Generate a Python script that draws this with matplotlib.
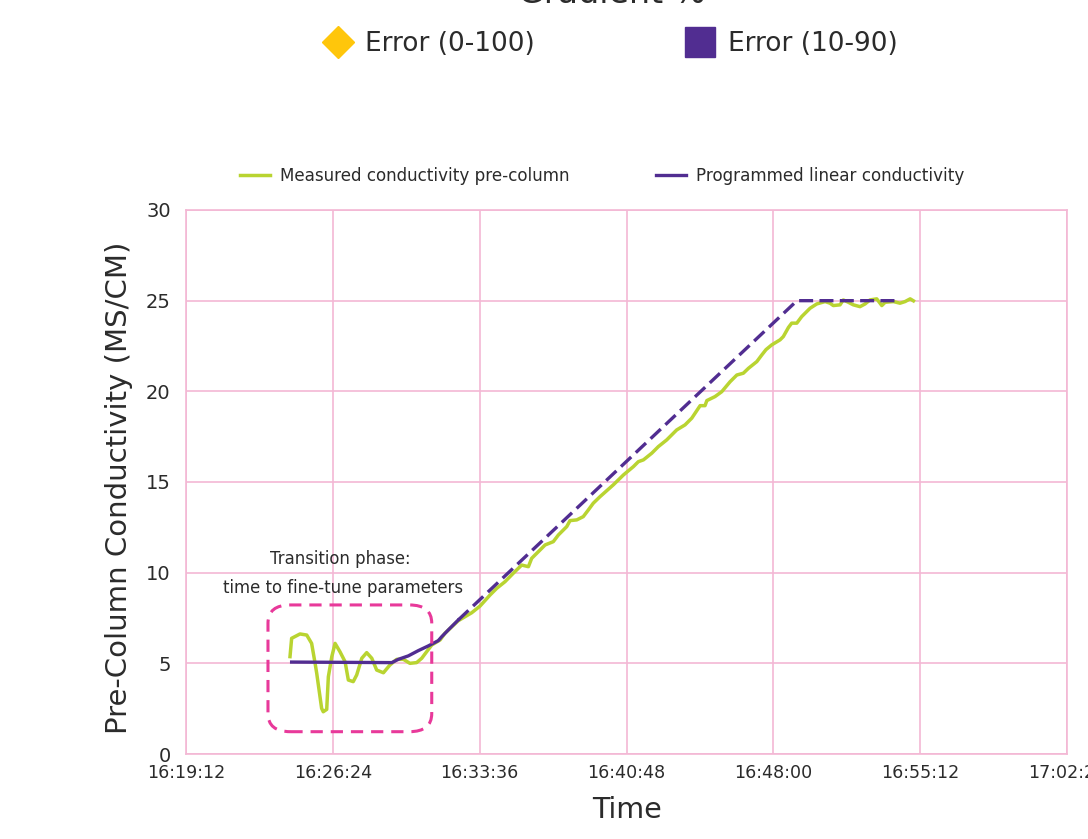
import matplotlib
matplotlib.use("Agg")
import numpy as np
import matplotlib.pyplot as plt
from matplotlib.lines import Line2D
from matplotlib.patches import FancyBboxPatch
from matplotlib.ticker import FuncFormatter

plt.rcParams['font.family'] = ['DejaVu Sans']

# ---- data (time in minutes after 16:00) ----
measured_time = [24.30, 24.38, 24.79, 25.12, 25.36, 25.53, 25.61, 25.85, 25.93, 26.10,
                 26.18, 26.35, 26.51, 26.75, 27.00, 27.16, 27.40, 27.57, 27.82, 28.06,
                 28.31, 28.55, 28.88, 29.20, 29.53, 29.86, 30.18, 30.51, 30.76, 31.00,
                 31.25, 31.66, 31.90, 32.55, 33.21, 33.62, 34.11, 34.44, 34.84, 35.25,
                 35.66, 35.99, 36.15, 36.48, 36.81, 37.21, 37.46, 37.87, 38.03, 38.36,
                 38.68, 38.93, 39.17, 39.50, 40.15, 40.65, 41.14, 41.38, 41.63, 42.04,
                 42.36, 42.77, 43.26, 43.67, 44.00, 44.41, 44.65, 44.74, 45.14, 45.47,
                 45.88, 46.21, 46.53, 46.78, 47.19, 47.43, 47.64, 47.92, 48.33, 48.49,
                 48.74, 48.90, 49.15, 49.39, 49.80, 50.13, 50.54, 50.78, 50.94, 51.27,
                 51.43, 51.68, 51.92, 52.25, 52.50, 52.74, 53.07, 53.32, 53.48, 53.89,
                 54.21, 54.46, 54.71, 54.87]
measured_value = [5.37, 6.38, 6.62, 6.56, 6.10, 5.00, 4.45, 2.52, 2.33, 2.46,
                  4.26, 5.37, 6.10, 5.64, 5.09, 4.08, 3.99, 4.36, 5.28, 5.59,
                  5.28, 4.63, 4.48, 4.91, 5.22, 5.22, 5.00, 5.04, 5.28, 5.64,
                  6.01, 6.29, 6.66, 7.35, 7.79, 8.16, 8.77, 9.14, 9.50, 9.97,
                  10.42, 10.33, 10.79, 11.16, 11.53, 11.71, 12.08, 12.54, 12.87, 12.91,
                  13.09, 13.46, 13.83, 14.19, 14.84, 15.39, 15.85, 16.12, 16.22, 16.59,
                  16.95, 17.32, 17.87, 18.15, 18.52, 19.21, 19.21, 19.49, 19.71, 19.98,
                  20.53, 20.90, 21.00, 21.27, 21.64, 22.00, 22.30, 22.56, 22.84, 23.02,
                  23.52, 23.76, 23.76, 24.12, 24.58, 24.82, 24.95, 24.86, 24.73, 24.77,
                  25.04, 24.91, 24.77, 24.67, 24.82, 25.04, 25.10, 24.73, 24.91, 24.95,
                  24.86, 24.95, 25.10, 24.99]

programmed_time = [24.38, 29.29, 29.61, 30.10, 30.59, 31.08, 31.57, 31.74, 32.06, 32.55,
                   49.16, 54.21]
programmed_value = [5.07, 5.04, 5.22, 5.41, 5.70, 5.96, 6.25, 6.47, 6.84, 7.39,
                    25.0, 25.0]
programmed_solid_until = 9   # index where the programmed line turns dashed

x_ticks_start, x_ticks_end, x_tick_step = 19.2, 62.4, 7.2
y_ticks = [0, 5, 10, 15, 20, 25, 30]

series_names = ["Measured conductivity pre-column", "Programmed linear conductivity"]
top_legend_names = ["Error (0-100)", "Error (10-90)"]

GREEN = '#B9D431'
PURPLE = '#512D91'
GOLD = '#FFC60B'
PINK_GRID = '#F3B8D4'
BOX_PINK = '#E8399A'
TEXT = '#2B2B2B'

fig = plt.figure(figsize=(10.88, 8.39), dpi=100)
ax = fig.add_axes([186/1088, 1-754/839, (1067-186)/1088, (754-210)/839])

ax.plot(measured_time, measured_value, color=GREEN, lw=2.5, label=series_names[0],
        solid_joinstyle='round', zorder=3)
ax.plot(programmed_time[:programmed_solid_until + 1], programmed_value[:programmed_solid_until + 1],
        color=PURPLE, lw=2.4, zorder=4, label=series_names[1])
ax.plot(programmed_time[programmed_solid_until:], programmed_value[programmed_solid_until:],
        color=PURPLE, lw=2.4, zorder=4, dashes=(4.2, 1.9))

ax.set_xlim(x_ticks_start, x_ticks_end)
ax.set_ylim(0, 30)
ax.set_xticks(np.arange(x_ticks_start, x_ticks_end + 0.01, x_tick_step))
ax.set_yticks(y_ticks)


def fmt_time(m, pos):
    total = int(round(m * 60)) + 16 * 3600
    h, rem = divmod(total, 3600)
    mm, ss = divmod(rem, 60)
    return f"{h:02d}:{mm:02d}:{ss:02d}"


ax.xaxis.set_major_formatter(FuncFormatter(fmt_time))
ax.grid(True, color=PINK_GRID, lw=1.2)
ax.set_axisbelow(True)
for s in ax.spines.values():
    s.set_color(PINK_GRID)
    s.set_linewidth(1.2)
ax.tick_params(length=0, labelsize=12.6, colors=TEXT, pad=7)
ax.tick_params(axis='y', labelsize=14, pad=11)
for lab in ax.get_xticklabels():
    lab.set_clip_on(False)

ax.set_xlabel("Time", fontsize=20.5, color=TEXT, labelpad=10)
ax.set_ylabel("Pre-Column Conductivity (MS/CM)", fontsize=21, color=TEXT)
ax.yaxis.set_label_coords(-(186 - 133) / 881, (754 - 488) / 544)

# transition box
box = FancyBboxPatch((23.22, 1.23), 31.25 - 23.22, 8.22 - 1.23,
                     boxstyle="round,pad=0,rounding_size=1.1", mutation_aspect=1.0 / 1.1,
                     fill=False, edgecolor=BOX_PINK, lw=2.2, linestyle=(0, (4, 2.6)), zorder=5)
ax.add_patch(box)
ax.text(26.75, 10.76, "Transition phase:", ha='center', va='center', fontsize=11.9, color=TEXT)
ax.text(26.92, 9.16, "time to fine-tune parameters", ha='center', va='center', fontsize=11.9,
        color=TEXT)

# chart legend
leg = ax.legend(loc='center left', bbox_to_anchor=((240 - 186) / 881, 1 + 34 / 544), ncol=2,
                frameon=False, fontsize=12.1, handlelength=1.8, columnspacing=5.1,
                handletextpad=0.6, labelcolor=TEXT, borderaxespad=0, borderpad=0)

# top legend (title cut off)
fig.text(0.562, 1 - 3 / 839, "Gradient %", ha='center', va='baseline', fontsize=24, color=TEXT)
handles = [Line2D([], [], marker='D', color='none', markerfacecolor=GOLD, markeredgecolor=GOLD,
                  markersize=16),
           Line2D([], [], marker='s', color='none', markerfacecolor=PURPLE,
                  markeredgecolor=PURPLE, markersize=22)]
fig.legend(handles, top_legend_names, loc='center left', bbox_to_anchor=(323 / 1088, 1 - 44 / 839),
           ncol=2, frameon=False, fontsize=19, handlelength=1.1, handletextpad=0.5,
           columnspacing=5.7, labelcolor=TEXT, borderaxespad=0, borderpad=0)

fig.savefig("out.png", dpi=100)
